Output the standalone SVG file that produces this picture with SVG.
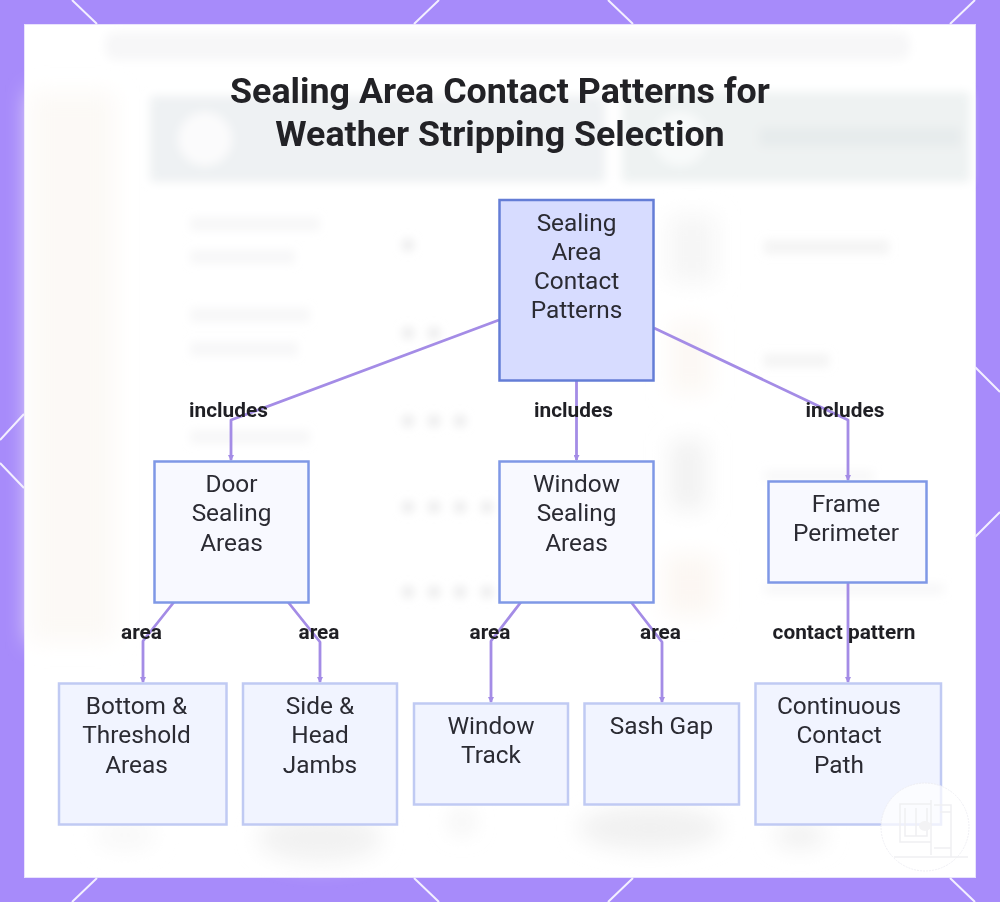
<svg xmlns="http://www.w3.org/2000/svg" width="1000" height="902" viewBox="0 0 1000 902">
<style>
text{font-family:Roboto,"Liberation Sans",sans-serif;text-anchor:middle}
.n{font-size:24.4px;fill:#2b2b33}
.e{font-size:20.8px;font-weight:700;fill:#1f1f24}
.t{font-size:35.8px;font-weight:700;fill:#222226}
.c{fill:none;stroke:#a48ce6;stroke-width:2.8;stroke-linejoin:round}
.b{fill:#f8f9ff;stroke:#7f98e6;stroke-width:2.5}
.l{fill:#f1f4ff;stroke:#c0caf3;stroke-width:2.5}
.d{stroke:#f3efff;stroke-width:2;fill:none}
.g{fill:#e9e9ea}
.w{fill:none;stroke:#f0f0f2;stroke-width:1.5}
</style>
<defs>
<filter id="bl" x="-20%" y="-20%" width="140%" height="140%"><feGaussianBlur stdDeviation="5"/></filter>
<filter id="bs" x="-30%" y="-30%" width="160%" height="160%"><feGaussianBlur stdDeviation="11"/></filter>
<marker id="a" markerWidth="6" markerHeight="6" refX="5" refY="3" orient="auto" markerUnits="userSpaceOnUse"><path d="M0 0L6 3L0 6Z" fill="#a48ce6"/></marker>
</defs>
<rect width="1000" height="902" fill="#a78bfa"/>
<rect x="24.500" y="24.500" width="951" height="853" fill="#fff" stroke="#e9e2fd" stroke-width="1"/>
<g id="backdrop">
<g filter="url(#bs)">
<rect x="30" y="92" width="85" height="550" fill="#fcf9f6"/>
<ellipse cx="320" cy="838" rx="62" ry="24" fill="#f2f2f2"/>
<ellipse cx="125" cy="835" rx="30" ry="14" fill="#f8f8f8"/>
<ellipse cx="650" cy="828" rx="72" ry="22" fill="#f1f1f1"/>
<ellipse cx="800" cy="836" rx="26" ry="12" fill="#f0f0f0"/>
<ellipse cx="462" cy="822" rx="11" ry="11" fill="#f0f0f0"/>
<rect x="670" y="322" width="40" height="72" fill="#fcf8f4"/>
<rect x="668" y="215" width="48" height="68" fill="#f6f6f6"/>
<rect x="670" y="440" width="36" height="70" fill="#f2f2f2"/>
<rect x="665" y="555" width="50" height="60" fill="#fcf7f3"/>
</g>
<g filter="url(#bl)">
<rect x="150" y="96" width="455" height="86" rx="4" fill="#eef1f3"/>
<rect x="622" y="92" width="348" height="90" rx="4" fill="#eef2f2"/>
<circle cx="205" cy="139" r="27" fill="#fbfbfc"/>
<circle cx="680" cy="139" r="27" fill="#f8fafa"/>
<rect x="105" y="32" width="805" height="28" rx="10" fill="#f7f7f8"/>
<rect x="760" y="128" width="200" height="18" fill="#e6ebec"/>
<rect x="190" y="217" width="130" height="14" class="g" opacity=".35"/>
<rect x="190" y="250" width="105" height="14" class="g" opacity=".35"/>
<rect x="190" y="308" width="120" height="14" class="g" opacity=".35"/>
<rect x="190" y="342" width="108" height="14" class="g" opacity=".35"/>
<rect x="190" y="430" width="120" height="14" class="g" opacity=".35"/>
<rect x="764" y="240" width="125" height="14" class="g" opacity=".5"/>
<rect x="764" y="354" width="65" height="13" class="g" opacity=".5"/>
<rect x="764" y="470" width="110" height="12" class="g" opacity=".3"/>
<rect x="764" y="583" width="180" height="12" class="g" opacity=".3"/>
<circle cx="408" cy="245" r="6" class="g"/>
<circle cx="408" cy="333" r="6" class="g"/><circle cx="434" cy="333" r="6" class="g"/>
<circle cx="408" cy="421" r="6" class="g"/><circle cx="434" cy="421" r="6" class="g"/><circle cx="460" cy="421" r="6" class="g"/>
<circle cx="408" cy="507" r="6" class="g"/><circle cx="434" cy="507" r="6" class="g"/><circle cx="460" cy="507" r="6" class="g"/><circle cx="487" cy="507" r="6" class="g"/>
<circle cx="408" cy="592" r="6" class="g"/><circle cx="434" cy="592" r="6" class="g"/><circle cx="460" cy="592" r="6" class="g"/><circle cx="487" cy="592" r="6" class="g"/>
</g>
</g>
<g id="frame-lines">
<path class="d" d="M72 0L97 24M439 0L414 24M608 0L633 24M975 0L950 24M0 440L24 414M0 463L24 488M975 367L1000 392M975 537L1000 512M97 878L72 902M414 878L439 902M633 878L608 902M950 878L975 902"/>
</g>
<text id="title" class="t"><tspan x="500" y="103">Sealing Area Contact Patterns for</tspan><tspan x="500" y="146">Weather Stripping Selection</tspan></text>
<g id="connectors">
<path class="c" marker-end="url(#a)" d="M499 320L231 420V460"/>
<path class="c" marker-end="url(#a)" d="M576.500 381V460"/>
<path class="c" marker-end="url(#a)" d="M654 328L848 420V480"/>
<path class="c" marker-end="url(#a)" d="M174 602L143 641V682"/>
<path class="c" marker-end="url(#a)" d="M288 602L320 642V682"/>
<path class="c" marker-end="url(#a)" d="M521 602L491 641V702"/>
<path class="c" marker-end="url(#a)" d="M631 602L662 642V702"/>
<path class="c" marker-end="url(#a)" d="M848 582V682"/>
</g>
<g id="edge-labels">
<text class="e" x="228.500" y="417">includes</text>
<text class="e" x="573.500" y="417">includes</text>
<text class="e" x="845" y="417">includes</text>
<text class="e" x="141.500" y="639">area</text>
<text class="e" x="319" y="639">area</text>
<text class="e" x="490" y="639">area</text>
<text class="e" x="660.500" y="639">area</text>
<text class="e" x="844" y="639">contact pattern</text>
</g>
<g id="root"><rect x="499.500" y="200" width="154" height="180.500" fill="#d7dcff" stroke="#647dd6" stroke-width="2.500"/><text class="n"><tspan x="576.500" y="231">Sealing</tspan><tspan x="576.500" y="260">Area</tspan><tspan x="576.500" y="289">Contact</tspan><tspan x="576.500" y="318">Patterns</tspan></text></g>
<g id="door"><rect class="b" x="154.500" y="461.500" width="154" height="141"/><text class="n"><tspan x="231.500" y="492">Door</tspan><tspan x="231.500" y="521">Sealing</tspan><tspan x="231.500" y="550.500">Areas</tspan></text></g>
<g id="window"><rect class="b" x="499.500" y="461.500" width="154" height="141"/><text class="n"><tspan x="576.500" y="492">Window</tspan><tspan x="576.500" y="521">Sealing</tspan><tspan x="576.500" y="550.500">Areas</tspan></text></g>
<g id="frame"><rect class="b" x="768.500" y="481.500" width="158" height="101"/><text class="n"><tspan x="846" y="512">Frame</tspan><tspan x="846" y="541">Perimeter</tspan></text></g>
<g id="bottom"><rect class="l" x="59" y="683.500" width="167.500" height="141"/><text class="n"><tspan x="136.500" y="714">Bottom &amp;</tspan><tspan x="136.500" y="743">Threshold</tspan><tspan x="136.500" y="772.500">Areas</tspan></text></g>
<g id="side"><rect class="l" x="243" y="683.500" width="154" height="141"/><text class="n"><tspan x="320" y="714">Side &amp;</tspan><tspan x="320" y="743">Head</tspan><tspan x="320" y="772.500">Jambs</tspan></text></g>
<g id="track"><rect class="l" x="414" y="703.500" width="154" height="101"/><text class="n"><tspan x="491" y="734">Window</tspan><tspan x="491" y="763">Track</tspan></text></g>
<g id="sash"><rect class="l" x="584.500" y="703.500" width="154.500" height="101"/><text class="n" x="661.500" y="734">Sash Gap</text></g>
<g id="path"><rect class="l" x="755.500" y="683.500" width="185.500" height="141"/><text class="n"><tspan x="839" y="714">Continuous</tspan><tspan x="839" y="743">Contact</tspan><tspan x="839" y="772.500">Path</tspan></text></g>
<g id="watermark">
<circle cx="925" cy="827" r="44" fill="#fff" fill-opacity=".72" stroke="#efeff4" stroke-width="1" stroke-dasharray="2 1"/>
<path class="w" d="M900 804H931V842H900ZM905 808V836H927V808M916 808V836M931 800V855M894 857H968M934 805H951V857M940 812H951V848H934"/>
<ellipse cx="925" cy="826" rx="6" ry="5" fill="#f3f3f5"/>
</g>
</svg>
